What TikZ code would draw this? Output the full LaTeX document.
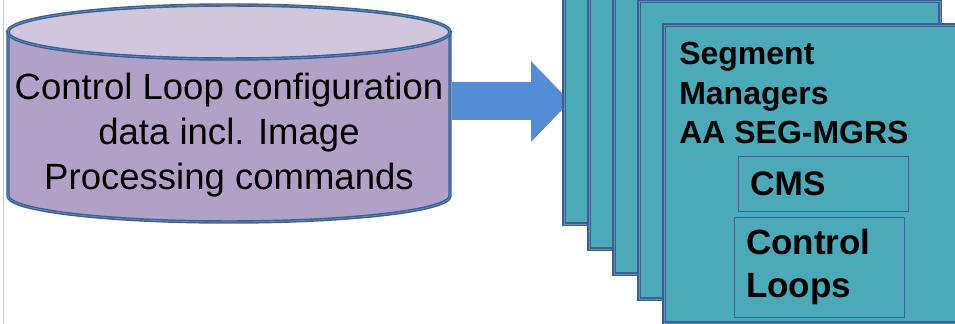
\documentclass[tikz,border=0pt]{standalone}
\usepackage{fontspec}
\setmainfont{Liberation Sans}
\usepackage{tikz}
\usetikzlibrary{positioning}

\definecolor{canbody}{RGB}{178,161,199}
\definecolor{cantop}{RGB}{208,199,222}
\definecolor{edgeblue}{RGB}{58,96,146}
\definecolor{edgelight}{RGB}{104,140,188}
\definecolor{arrowblue}{RGB}{84,141,214}
\definecolor{segteal}{RGB}{76,170,184}
\definecolor{boxline}{RGB}{60,96,160}

\tikzset{
  canedge/.style={draw=edgeblue, double=edgelight, double distance=0.5pt, line width=1.05pt},
  segbox/.style={fill=segteal, draw=edgeblue, double=edgelight, double distance=0.5pt, line width=1.1pt},
  innerbox/.style={draw=boxline, line width=0.6pt, align=left, inner xsep=9pt, inner ysep=0pt},
}

\begin{document}
\begin{tikzpicture}[x=0.75pt,y=0.75pt,yscale=-1,xscale=1]
    \useasboundingbox (0,0) rectangle (955,324);

    % Left rule
    \draw [color=black!22, line width=0.6pt] (3,0) -- (3,324) ;

    % Shape: Can
    \draw [canedge, fill=canbody] (8,32) -- (8,196) arc [start angle=180, end angle=0, x radius=221, y radius=26] -- (450,32) -- cycle ;
    \draw [canedge, fill=cantop] (229,32) ellipse [x radius=221, y radius=27] ;
    % Text Node
    \node [align=center, inner sep=0pt, font=\fontsize{27.4}{33.75}\selectfont] (config) at (229,135)
      {Control Loop configuration\\data incl. Image\\Processing commands};

    % Shape: Right Arrow
    \fill [arrowblue] (452,82) -- (531,82) -- (531,61) -- (570,101.5) -- (531,142) -- (531,120) -- (452,120) -- cycle ;

    % Shape: Rectangle
    \draw [segbox] (564,-74) rectangle (865,224) ;
    % Shape: Rectangle
    \draw [segbox] (589,-49) rectangle (890,249) ;
    % Shape: Rectangle
    \draw [segbox] (614,-24) rectangle (915,274) ;
    % Shape: Rectangle
    \draw [segbox] (639,1) rectangle (940,299) ;
    % Shape: Rectangle
    \draw [segbox] (664,25) rectangle (965,323) ;

    % Text Node
    \node [anchor=north west, align=left, inner sep=0pt, font=\fontsize{24}{29.6}\selectfont\bfseries] (segmgrs) at (679,42)
      {Segment\\Managers\\AA SEG-MGRS};
    % Text Node
    \node [innerbox, text width=109.5pt, minimum height=41.25pt, font=\fontsize{25.5}{30}\selectfont\bfseries] (cms) at (823,183.5) {CMS};
    % Text Node
    \node [innerbox, text width=109.5pt, minimum height=75pt, font=\fontsize{26.3}{32.25}\selectfont\bfseries] (loops) at (819,267) {Control\\Loops};

\end{tikzpicture}
\end{document}
